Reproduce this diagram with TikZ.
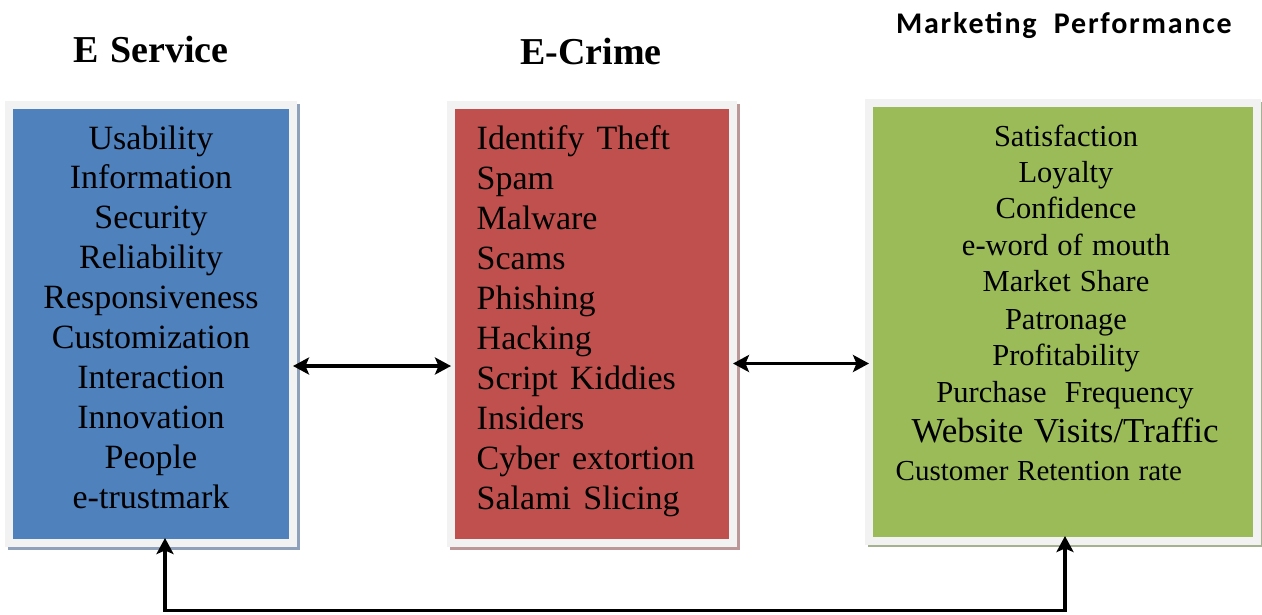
\documentclass[tikz,border=0pt]{standalone}
\usepackage{fontspec}
\setmainfont{Liberation Serif}
\newfontfamily\tnr{Liberation Serif}
\newfontfamily\tnrw[WordSpace=1.2]{Liberation Serif}
\newfontfamily\calibri[LetterSpace=6]{Carlito}
\usetikzlibrary{arrows.meta,backgrounds}
\definecolor{eblue}{HTML}{4F81BD}
\definecolor{ered}{HTML}{C0504D}
\definecolor{egreen}{HTML}{9BBB59}
\definecolor{framegray}{HTML}{F2F2F2}
\definecolor{bshadow}{HTML}{8EA0BA}
\definecolor{rshadow}{HTML}{BB9797}
\definecolor{gshadow}{HTML}{A4B38E}
\tikzset{
  panel/.style={rectangle, draw=framegray, line width=8pt, outer sep=0pt, inner sep=0pt},
  item/.style={inner sep=0pt, anchor=base, font=\tnr\fontsize{34}{40}\selectfont},
  itemL/.style={inner sep=0pt, anchor=base west, font=\tnrw\fontsize{34}{40}\selectfont},
  gitem/.style={inner sep=0pt, anchor=base, font=\tnr\fontsize{30.5}{36}\selectfont},
  title/.style={inner sep=0pt, anchor=base, font=\tnr\fontsize{38}{44}\selectfont\bfseries},
  conn/.style={line width=3.2pt, {Stealth[length=16pt,width=17pt,inset=3.5pt]}-{Stealth[length=16pt,width=17pt,inset=3.5pt]}},
}
\begin{document}
\begin{tikzpicture}[x=1pt,y=-1pt]
\useasboundingbox (0,0) rectangle (1262,614);
% panels
\node[panel, fill=eblue, minimum width=284pt, minimum height=438pt] (blue) at (151,324) {};
\node[panel, fill=ered, minimum width=282pt, minimum height=438pt] (red) at (592,324) {};
\node[panel, fill=egreen, minimum width=388pt, minimum height=438pt] (green) at (1063,322) {};
\begin{pgfonlayer}{background}
  \fill[bshadow] ([shift={(-1,-1)}]blue.north west) rectangle ([shift={(7,7)}]blue.south east);
  \fill[rshadow] ([shift={(-1,-1)}]red.north west) rectangle ([shift={(7,7)}]red.south east);
  \fill[gshadow] ([shift={(-1,-1)}]green.north west) rectangle ([shift={(6,6)}]green.south east);
\end{pgfonlayer}
% titles
\node[title] (t1) at (151,62.5) {E Service};
\node[title] (t2) at (591,64.5) {E-Crime};
\node[inner sep=0pt, anchor=base, font=\calibri\fontsize{30}{36}\selectfont\bfseries] (t3) at (1064,33) {Marketing\ \ Performance};
% blue items
\foreach \t [count=\k from 0] in {Usability,Information,Security,Reliability,Responsiveness,Customization,Interaction,Innovation,People,e-trustmark}
  \node[item] (b\k) at (151,149+39.9*\k) {\t};
% red items
\foreach \t [count=\k from 0] in {Identify Theft,Spam,Malware,Scams,Phishing,Hacking,Script Kiddies,Insiders,Cyber extortion,Salami Slicing}
  \node[itemL] (r\k) at (476.5,149+40.1*\k) {\t};
% green items
\node[gitem] (g0) at (1066,146) {Satisfaction};
\node[gitem] (g1) at (1066,182) {Loyalty};
\node[gitem] (g2) at (1066,218) {Confidence};
\node[gitem] (g3) at (1066,255) {e-word of mouth};
\node[gitem] (g4) at (1066,291) {Market Share};
\node[gitem] (g5) at (1066,329.5) {Patronage};
\node[gitem] (g6) at (1066,365.5) {Profitability};
\node[gitem] (g7) at (1065,402) {Purchase\ \ Frequency};
\node[inner sep=0pt, anchor=base, font=\tnr\fontsize{35}{40}\selectfont] (g8) at (1065,442.5) {Website Visits/Traffic};
\node[inner sep=0pt, anchor=base west, font=\tnr\fontsize{29}{34}\selectfont] (g9) at (895.5,480.5) {Customer Retention rate};
% connectors
\coordinate (m1) at (0,366);
\coordinate (m2) at (0,363.5);
\coordinate (bot) at (0,610.5);
\draw[conn] (blue.east |- m1) -- (red.west |- m1);
\draw[conn] (red.east |- m2) -- (green.west |- m2);
\coordinate (bl) at ([shift={(14,-5)}]blue.south);
\coordinate (gl) at ([shift={(2,-5)}]green.south);
\draw[conn, line join=miter] (bl) -- (bl |- bot) -- (gl |- bot) -- (gl);
\end{tikzpicture}
\end{document}
